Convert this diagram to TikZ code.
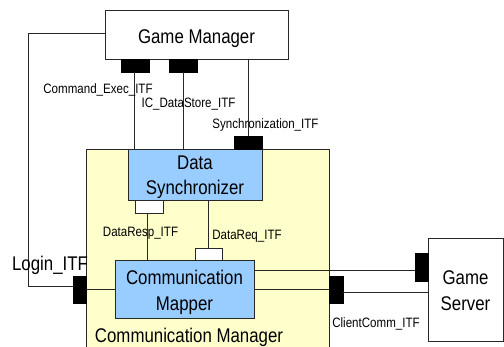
\documentclass[tikz,border=0pt]{standalone}
\usepackage{fontspec}
\setmainfont{Liberation Sans}[FakeStretch=0.85]
\definecolor{cmyellow}{RGB}{255,255,204}
\definecolor{compblue}{RGB}{153,204,255}
\definecolor{linegray}{RGB}{40,40,40}
\tikzset{
  bigtxt/.style={font=\fontsize{19.8}{25.5}\selectfont, inner sep=0pt},
  smalltxt/.style={font=\fontsize{13.6}{16}\selectfont, inner sep=0pt},
  frame/.style={draw=linegray, line width=0.8pt, inner sep=0pt, outer sep=0pt, rectangle},
  comp/.style={frame, fill=compblue},
  ext/.style={frame, fill=white},
  container/.style={frame, fill=cmyellow},
  blackport/.style={draw=black, fill=black, line width=0.5pt, inner sep=0pt, outer sep=0pt},
  whiteport/.style={draw=linegray, fill=white, line width=0.8pt, inner sep=0pt, outer sep=0pt},
  wire/.style={draw=linegray, line width=0.8pt},
  itf/.style={smalltxt, anchor=base},
}
\begin{document}
\begin{tikzpicture}[x=1pt,y=-1pt]
\useasboundingbox (0,0) rectangle (504,346);
\clip (0,0) rectangle (504,346);
% container
\node[container, minimum width=243pt, minimum height=220pt] (cm) at (207.5,259) {};
\node[bigtxt, anchor=base] (cmlabel) at (189,342) {Communication Manager};
% external components
\node[ext, minimum width=183pt, minimum height=49pt] (gm) at (196.5,34.5) {};
\node[bigtxt, anchor=base] (gmtext) at (196.5,43) {Game Manager};
\node[ext, minimum width=75pt, minimum height=103pt] (gs) at (465.5,289.5) {};
\node[bigtxt, align=center] (gstext) at (465.5,290.8) {Game\\Server};
% inner components
\node[comp, minimum width=134pt, minimum height=51pt] (ds) at (195,174.5) {};
\node[bigtxt, align=center] (dstext) at (195,177) {Data\\Synchronizer};
\node[comp, minimum width=139pt, minimum height=58pt] (cmap) at (184.5,289) {};
\node[bigtxt, align=center] (cmaptext) at (184.5,292.4) {Communication\\Mapper};
% ports
\node[blackport, minimum width=28pt, minimum height=13pt] (cmdport) at (135,65.5) {};
\node[blackport, minimum width=28pt, minimum height=13pt] (icport) at (183,65.5) {};
\node[blackport, minimum width=28pt, minimum height=13pt] (syncport) at (248,142.5) {};
\node[blackport, minimum width=13pt, minimum height=27pt] (loginport) at (79.5,289.5) {};
\node[blackport, minimum width=13pt, minimum height=28pt] (gsport) at (421.5,267) {};
\node[blackport, minimum width=14pt, minimum height=27pt] (ccport) at (336,289.5) {};
\node[whiteport, minimum width=28pt, minimum height=13pt] (respport) at (149,206.5) {};
\node[whiteport, minimum width=27pt, minimum height=12pt] (reqport) at (208.5,254) {};
% wires
\coordinate (loginbend) at (28,33);
\draw[wire] ([xshift=-1pt]cmdport.south) -- ([xshift=-1pt]cmdport.south |- ds.north);
\draw[wire] (icport.south) -- (icport.south |- ds.north);
\draw[wire] (syncport.north) -- (syncport.north |- gm.south);
\draw[wire] ([yshift=1.5pt]gm.west) -- (loginbend) |- ([yshift=3.5pt]loginport.west);
\draw[wire] (loginport.east) -- (loginport.east -| cmap.west);
\draw[wire] ([xshift=-2pt]respport.south) -- ([xshift=-2pt]respport.south |- cmap.north);
\draw[wire] (reqport.north) -- (reqport.north |- ds.south);
\draw[wire] ([yshift=-3pt]gsport.west) -- ([yshift=-3pt]gsport.west -| cmap.east);
\draw[wire] (ccport.west) -- (ccport.west -| cmap.east);
\draw[wire] ([yshift=-2.5pt]ccport.east) -- ([yshift=-2.5pt]ccport.east -| gs.west);
% interface labels
\node[itf] (lblcmd) at (98,93) {Command\_Exec\_ITF};
\node[itf] (lblic) at (188.5,107) {IC\_DataStore\_ITF};
\node[itf] (lblsync) at (265.5,128) {Synchronization\_ITF};
\node[bigtxt, anchor=base] (lbllogin) at (50,270) {Login\_ITF};
\node[itf] (lblresp) at (140.5,236) {DataResp\_ITF};
\node[itf] (lblreq) at (247,239) {DataReq\_ITF};
\node[itf] (lblcc) at (376,327) {ClientComm\_ITF};
\end{tikzpicture}
\end{document}
